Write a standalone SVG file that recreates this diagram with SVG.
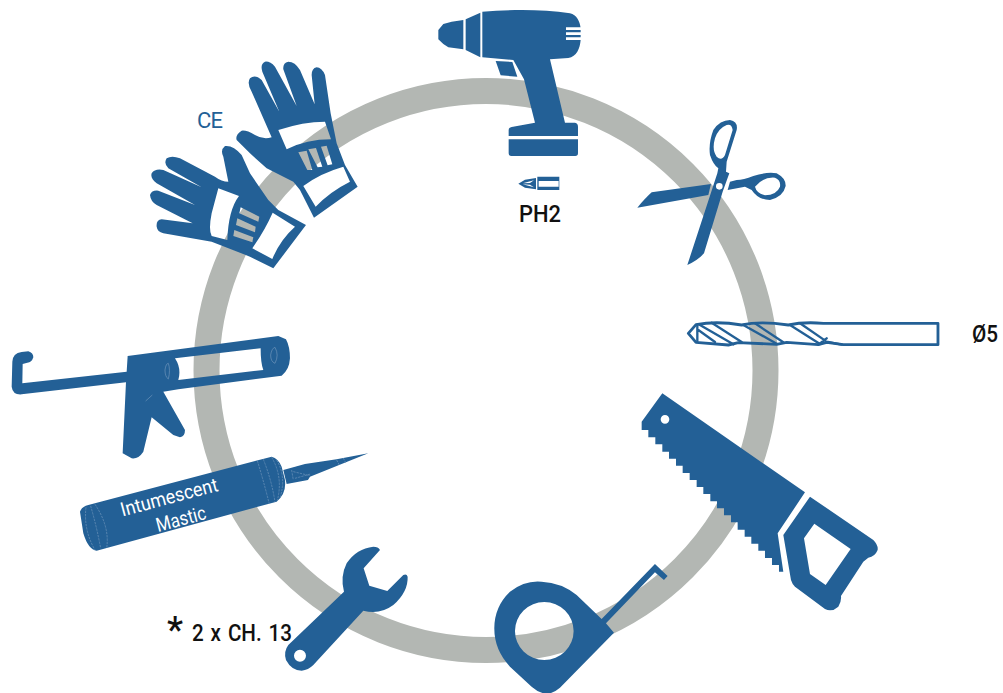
<svg xmlns="http://www.w3.org/2000/svg" width="1003" height="693" viewBox="0 0 1003 693">
<style>
.b{fill:#236096;fill-rule:evenodd}
.w{fill:#fff}
.l{fill:none;stroke:#6f96bb;stroke-width:2}
.d{fill:none;stroke:#236096;stroke-width:8.5;stroke-linejoin:round;stroke-linecap:round}
.t{font-family:Roboto,"Liberation Sans",sans-serif;font-weight:500;font-size:23px;fill:#111}
.m{font-family:Roboto,"Liberation Sans",sans-serif;font-size:19.5px;fill:#fff}
</style>
<rect width="1003" height="693" fill="#fff"/>
<circle id="ring" cx="486" cy="370.5" r="279.5" fill="none" stroke="#b3b7b3" stroke-width="26"/>
<g id="drill">
<g transform="translate(430,0) scale(.3333)">
<path class="b" d="M25,90L40,72L65,65L100,60V148L55,142L40,132L25,118ZM107,58L151,38V172L107,150ZM157,35C250,28 340,28 420,40C440,44 450,65 452,85V120C450,145 440,170 415,174L360,178L405,368H435Q444,370 444,380V408H236V390Q236,383 245,381L315,368L282,238L250,180L157,172ZM197,183L247,186L262,230L212,226ZM236,418H444V460Q444,468 436,468H244Q236,468 236,460Z"/>
<path class="w" d="M408,82H456V90H408ZM408,97H456V105H408ZM408,112H456V120H408Z"/>
<path class="b" d="M265,551L285,539L318,534V568L285,563ZM322,530H388V570H322ZM326,543V560H386V543Z"/>
<path class="w" d="M278,550L312,541L300,549ZM278,553L312,562L300,554Z"/>
</g>
<text class="t" x="519" y="222" textLength="42" lengthAdjust="spacingAndGlyphs">PH2</text>
</g>
<g id="gloves">
<g transform="translate(140,50) scale(.3333)">
<path class="b" d="M522,503L653,410L615,345L590,280L572,190L555,75Q545,52 530,52Q515,55 515,75L524,163L480,60Q465,35 445,35Q428,38 430,58L470,168L405,50Q390,33 375,35Q360,42 367,65L418,185L365,90Q345,72 330,85Q320,100 335,125L395,262Q370,270 345,255Q320,240 305,242Q285,255 290,270L330,310L380,355L460,395L480,420ZM490,408Q540,370 610,350L630,395Q570,425 527,470ZM415,240Q490,215 555,215L573,268Q500,268 440,298ZM475,307L500,302L517,360L502,360ZM505,298L528,294L547,350L533,352ZM543,290L560,287L577,343L563,346Z"/>
<path class="b" d="M400,655L498,525L415,480L385,450L330,370L305,315Q280,285 255,288Q240,300 250,320L265,395Q245,395 225,380L120,325Q95,315 80,325Q70,340 85,355L185,412L70,360Q45,355 35,370Q30,385 50,400L165,465L55,422Q35,420 30,435Q32,455 50,465L158,520L65,508Q48,510 50,530Q52,545 70,550L215,575L330,620ZM235,415L297,438Q265,480 262,570L215,558Q205,540 215,490ZM398,488L465,530Q420,570 397,627L337,595Q375,540 398,488ZM302,472L358,500L355,515L298,490ZM292,505L347,530L345,547L288,525ZM283,540L340,562L337,577L280,558Z"/>
</g>
<text x="197" y="128" style="font-family:Roboto,sans-serif;font-weight:400;font-size:22px;fill:#236096" textLength="26" lengthAdjust="spacing">CE</text>
</g>
<g id="caulk-gun" transform="translate(0,330) scale(.3333)">
<path class="b" d="M37,95Q38,70 65,66L85,64Q100,68 100,82Q95,98 82,98L68,102L67,160L380,125L383,78L835,18L858,28Q870,50 870,85Q868,120 845,137L535,178L490,185L555,300Q555,320 540,322L520,315L455,262L430,365Q415,388 395,385L368,370L378,157L65,193Q38,195 35,170ZM525,85L782,55Q782,100 790,120L535,150Q545,115 525,85Z"/>
<path class="l" d="M437,213L457,195M495,120Q498,100 505,100Q512,120 505,147Q495,140 495,120ZM812,75Q815,55 825,52Q838,75 825,100Q812,95 812,75Z"/>
</g>
<g id="mastic">
<g transform="translate(0,330) scale(.3333)">
<path class="b" d="M240,545Q245,530 265,525L815,380Q835,385 845,410L855,450Q860,490 830,515L290,662Q265,660 250,610ZM850,420L915,402L1010,388L1105,370L930,440L924,450L860,462Z"/>
<path class="l" stroke-dasharray="7 3" d="M285,523Q330,590 320,655M258,532Q250,600 285,660M272,528Q290,590 302,655M772,392Q790,450 808,522M790,388Q815,450 825,516M815,382Q850,440 832,512M830,390Q860,440 840,505M875,420L880,450M880,425L930,437M885,445L932,432M1010,390L1018,405M1030,384L1038,400"/>
</g>
<text class="m" transform="translate(122.5,516.5) rotate(-15)" textLength="100" lengthAdjust="spacingAndGlyphs">Intumescent</text>
<text class="m" transform="translate(158,532) rotate(-15)" textLength="51" lengthAdjust="spacingAndGlyphs">Mastic</text>
</g>
<g id="scissors" transform="translate(630,110) scale(.3333)">
<path class="b" d="M22,293Q45,265 65,247L243,222L235,255Z"/>
<path class="b" d="M172,465Q205,450 222,430L278,245L298,190L288,185L290,155L320,60Q325,35 300,30Q270,30 250,60Q235,100 240,135Q250,165 265,175L262,190ZM290,45Q305,40 308,60L285,135Q275,155 260,140Q245,120 255,85Q265,55 290,45ZM278,229A10,10 0 1 0 258,229A10,10 0 1 0 278,229Z"/>
<path class="b" d="M293,240L300,215L320,210Q340,210 370,198Q410,185 440,190Q468,205 467,228Q460,260 420,270Q385,270 365,240L345,230ZM375,230Q400,200 435,203Q453,210 450,230Q440,255 405,256Q380,250 375,230Z"/>
</g>
<g id="drill-bit">
<g transform="translate(680,310) scale(.3333)">
<path class="d" d="M25,70L48,44Q110,32 185,45Q240,32 325,45Q370,35 430,40H774V104H490L440,97L415,104L320,97L290,103L175,98L145,105L48,97Z"/>
<path class="d" style="stroke-width:7" d="M52,45V95M55,60L105,96M60,45L160,103M95,38L185,96M190,45L290,101M225,40L310,97M330,45L420,102M360,40L440,95L485,104M415,104L440,85"/>
</g>
<text class="t" x="972" y="342" textLength="26" lengthAdjust="spacingAndGlyphs">Ø5</text>
</g>
<g id="saw" transform="translate(630,385) scale(.3333)">
<path class="b" d="M35,135H55V157H76V178H97V200H117V221H138V242H158V264H179V285H200V306H220V327H241V349H261V370H282V391H303V412H323V434H344V455H364V476H385V497H405V519H426V540H447V560H460L443,445L525,322L97,25L35,110ZM118,103A13,13 0 1 0 92,103A13,13 0 1 0 118,103Z"/>
<path class="b" d="M540,335L730,465Q745,480 743,495Q735,515 715,518L700,530L633,633Q635,650 625,665Q605,683 585,672L495,605Q487,598 483,585L460,450ZM553,416L662,492L587,600L540,567L522,460Z"/>
</g>
<g id="wrench">
<g transform="translate(160,540) scale(.3333)">
<path class="b" d="M660,30Q655,20 640,20Q590,25 560,70Q540,110 552,155L385,315Q370,335 378,360Q395,392 425,392Q445,390 460,375L610,212Q660,225 700,195Q745,155 743,110Q740,100 730,105L682,153L628,137L611,85ZM438,347A18,18 0 1 0 402,347A18,18 0 1 0 438,347Z"/>
</g>
<text class="t" x="167" y="642" style="font-size:36px" textLength="16" lengthAdjust="spacingAndGlyphs">*</text>
<text class="t" x="192" y="641" word-spacing="2" textLength="100" lengthAdjust="spacingAndGlyphs">2 x CH. 13</text>
</g>
<g id="tape" transform="translate(160,540) scale(.3333)">
<path class="b" d="M1003,265Q1003,200 1050,155Q1095,120 1145,125Q1205,128 1250,165L1325,237L1485,72L1523,108L1512,120L1485,97L1338,250L1362,278L1200,443Q1180,460 1160,462Q1135,458 1115,440L1050,380Q1003,330 1003,265ZM1241,273A88,87 0 1 0 1065,273A88,87 0 1 0 1241,273Z"/>
</g>
</svg>
